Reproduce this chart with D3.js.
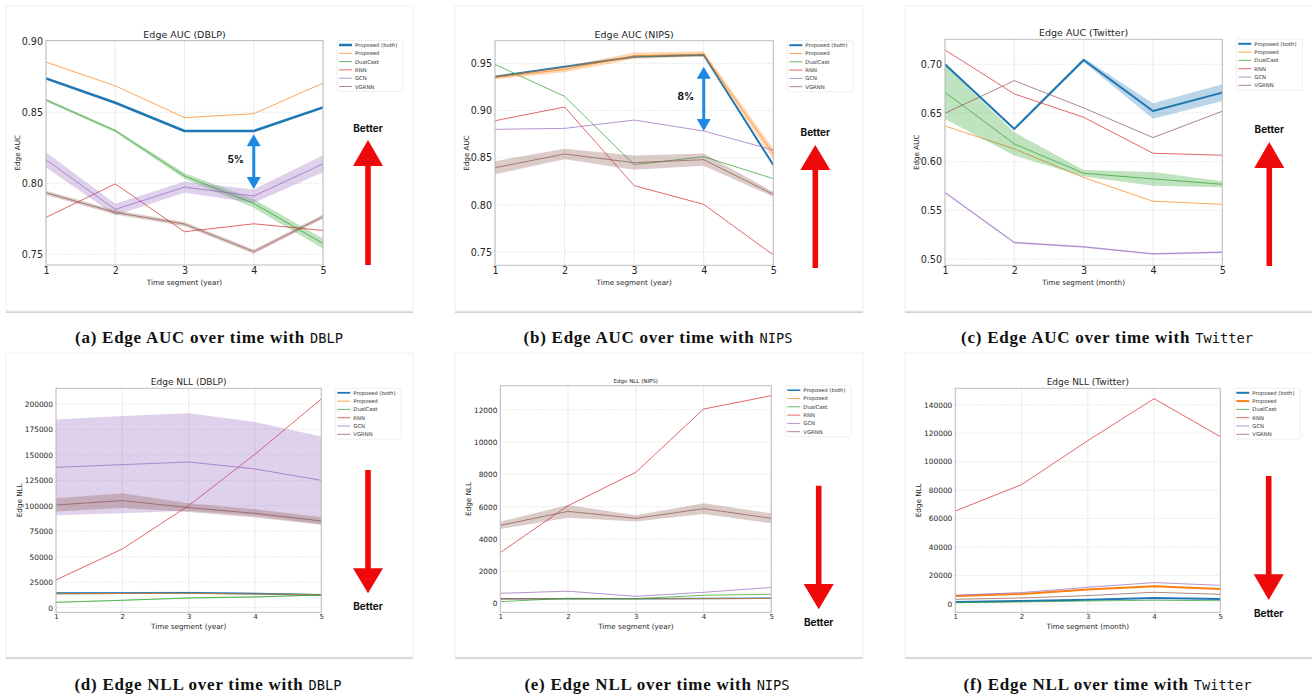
<!DOCTYPE html>
<html>
<head>
<meta charset="utf-8">
<script src="https://cdn.jsdelivr.net/npm/d3@7"></script>
<style>
  body { margin: 0; background: #fff; }
  svg { display: block; }
</style>
</head>
<body>
<script>
const W = 1312, H = 700;

const STEPS = [1, 2, 3, 4, 5];
const METHODS = ['Proposed (both)', 'Proposed', 'DualCast', 'RNN', 'GCN', 'VGRNN'];
const COLORS = ['#1f77b4', '#ff7f0e', '#2ca02c', '#d62728', '#9467bd', '#8c564b'];

// (a) Edge AUC - DBLP
const aucDblpBoth   = [0.8738, 0.8567, 0.8368, 0.8368, 0.8534];
const aucDblpProp   = [0.8853, 0.8686, 0.8462, 0.8490, 0.8705];
const aucDblpDual   = [0.8586, 0.8370, 0.8052, 0.7858, 0.7577];
const aucDblpRnn    = [0.7760, 0.7996, 0.7659, 0.7715, 0.7668];
const aucDblpGcn    = [0.8165, 0.7816, 0.7973, 0.7910, 0.8137];
const aucDblpVgrnn  = [0.7933, 0.7795, 0.7713, 0.7519, 0.7765];
const aucDblpDualErr  = [0.001, 0.001, 0.002, 0.003, 0.0035];
const aucDblpGcnErr   = [0.0053, 0.004, 0.004, 0.0047, 0.006];
const aucDblpVgrnnErr = [0.0015, 0.0015, 0.0015, 0.0015, 0.0015];

// (b) Edge AUC - NIPS
const aucNipsBoth   = [0.9359, 0.9465, 0.9571, 0.9588, 0.8424];
const aucNipsProp   = [0.9350, 0.9437, 0.9581, 0.9599, 0.8540];
const aucNipsDual   = [0.9489, 0.9151, 0.8428, 0.8512, 0.8280];
const aucNipsRnn    = [0.8893, 0.9038, 0.8206, 0.8008, 0.7472];
const aucNipsGcn    = [0.8802, 0.8812, 0.8900, 0.8784, 0.8583];
const aucNipsVgrnn  = [0.8396, 0.8541, 0.8449, 0.8481, 0.8114];
const aucNipsPropErr  = [0.002, 0.003, 0.0034, 0.0026, 0.006];
const aucNipsVgrnnErr = [0.0069, 0.0055, 0.0076, 0.0065, 0.0026];

// (c) Edge AUC - Twitter
const aucTwBoth   = [0.7000, 0.6337, 0.7044, 0.6521, 0.6709];
const aucTwProp   = [0.6367, 0.6132, 0.5838, 0.5595, 0.5564];
const aucTwDual   = [0.6713, 0.6183, 0.5882, 0.5824, 0.5769];
const aucTwRnn    = [0.7147, 0.6696, 0.6456, 0.6087, 0.6067];
const aucTwGcn    = [0.5684, 0.5171, 0.5127, 0.5055, 0.5072];
const aucTwVgrnn  = [0.6497, 0.6832, 0.6552, 0.6248, 0.6518];
const aucTwBothErr = [0.001, 0.001, 0.002, 0.008, 0.0085];
const aucTwDualErr = [0.0275, 0.012, 0.0034, 0.007, 0.003];
const aucTwGcnErr  = [0.001, 0.001, 0.001, 0.001, 0.001];

// (d) Edge NLL - DBLP
const nllDblpBoth   = [14100, 14300, 14500, 13700, 12600];
const nllDblpProp   = [13700, 13900, 14000, 13400, 12800];
const nllDblpDual   = [5200, 7200, 9500, 10500, 12400];
const nllDblpRnn    = [27200, 57600, 100200, 150600, 204900];
const nllDblpGcn    = [137800, 140400, 143000, 136200, 125000];
const nllDblpVgrnn  = [100800, 105100, 98200, 92600, 85100];
const nllDblpBothErr  = [1000, 1000, 1000, 800, 500];
const nllDblpDualErr  = [500, 500, 800, 800, 500];
const nllDblpGcnErr   = [47000, 47800, 47800, 46000, 43000];
const nllDblpVgrnnErr = [6500, 7200, 4400, 4000, 3700];

// (e) Edge NLL - NIPS
const nllNipsBoth   = [310, 310, 310, 320, 330];
const nllNipsProp   = [290, 300, 300, 310, 320];
const nllNipsDual   = [124, 330, 310, 520, 577];
const nllNipsRnn    = [3155, 6062, 8124, 12041, 12866];
const nllNipsGcn    = [639, 770, 450, 701, 1000];
const nllNipsVgrnn  = [4845, 5711, 5278, 5876, 5278];
const nllNipsVgrnnErr = [230, 390, 190, 330, 310];

// (f) Edge NLL - Twitter
const nllTwBoth   = [1400, 2100, 3000, 4200, 3500];
const nllTwProp   = [5600, 7000, 10100, 12400, 10500];
const nllTwDual   = [900, 1400, 2100, 2600, 2300];
const nllTwRnn    = [65300, 83800, 114700, 144200, 117500];
const nllTwGcn    = [6100, 8000, 11700, 15000, 13100];
const nllTwVgrnn  = [3300, 4200, 5900, 8200, 6800];

const AUC_DBLP_TICKS = [0.75, 0.80, 0.85, 0.90];
const AUC_NIPS_TICKS = [0.75, 0.80, 0.85, 0.90, 0.95];
const AUC_TW_TICKS   = [0.50, 0.55, 0.60, 0.65, 0.70];
const NLL_DBLP_TICKS = [0, 25000, 50000, 75000, 100000, 125000, 150000, 175000, 200000];
const NLL_NIPS_TICKS = [0, 2000, 4000, 6000, 8000, 10000, 12000];
const NLL_TW_TICKS   = [0, 20000, 40000, 60000, 80000, 100000, 120000, 140000];

const CAPTIONS = [
  ['(a) Edge AUC over time with ', 'DBLP'],
  ['(b) Edge AUC over time with ', 'NIPS'],
  ['(c) Edge AUC over time with ', 'Twitter'],
  ['(d) Edge NLL over time with ', 'DBLP'],
  ['(e) Edge NLL over time with ', 'NIPS'],
  ['(f) Edge NLL over time with ', 'Twitter']
];

const series = (vals, errs, widths) =>
  METHODS.map((name, i) => ({ name, color: COLORS[i], values: vals[i], err: errs[i], width: widths[i] }));

const PANELS = [
  { card: [6, 6, 407, 305], plot: [46, 40.5, 323, 265], yDomain: [0.7425, 0.9005], yTicks: AUC_DBLP_TICKS, fmt: '.2f',
    title: 'Edge AUC (DBLP)', titleSize: 9.5, yLabel: 'Edge AUC', xLabel: 'Time segment (year)', yLabelX: 17,
    yTickSize: 9.6, xTickSize: 9.6, labelSize: 7.2, caption: CAPTIONS[0], capX: 209, capY: 343,
    series: series([aucDblpBoth, aucDblpProp, aucDblpDual, aucDblpRnn, aucDblpGcn, aucDblpVgrnn],
                   [null, null, aucDblpDualErr, null, aucDblpGcnErr, aucDblpVgrnnErr], [2.5, 1, 1, 1, 1, 1]),
    better: { dir: 'up', cx: 368, textY: 128, tip: 140, base: 166, end: 265 },
    gap: { at: 4, from: 0.8345, to: 0.7959, label: '5%' } },
  { card: [455, 6, 408, 305], plot: [495, 40.7, 773.3, 265.3], yDomain: [0.7363, 0.974], yTicks: AUC_NIPS_TICKS, fmt: '.2f',
    title: 'Edge AUC (NIPS)', titleSize: 9.5, yLabel: 'Edge AUC', xLabel: 'Time segment (year)', yLabelX: 466,
    yTickSize: 9.6, xTickSize: 9.6, labelSize: 7.2, caption: CAPTIONS[1], capX: 658, capY: 343,
    series: series([aucNipsBoth, aucNipsProp, aucNipsDual, aucNipsRnn, aucNipsGcn, aucNipsVgrnn],
                   [null, aucNipsPropErr, null, null, null, aucNipsVgrnnErr], [2, 1, 1, 1, 1, 1]),
    better: { dir: 'up', cx: 815.3, textY: 132, tip: 145, base: 170, end: 268 },
    gap: { at: 4, from: 0.9465, to: 0.8784, label: '8%' } },
  { card: [905, 6, 420, 305], plot: [945, 39.3, 1222.3, 265.3], yDomain: [0.4938, 0.7256], yTicks: AUC_TW_TICKS, fmt: '.2f',
    title: 'Edge AUC (Twitter)', titleSize: 9.5, yLabel: 'Edge AUC', xLabel: 'Time segment (month)', yLabelX: 916,
    yTickSize: 9.6, xTickSize: 9.6, labelSize: 7.2, caption: CAPTIONS[2], capX: 1107, capY: 343,
    series: series([aucTwBoth, aucTwProp, aucTwDual, aucTwRnn, aucTwGcn, aucTwVgrnn],
                   [aucTwBothErr, null, aucTwDualErr, null, aucTwGcnErr, null], [2, 1, 1, 1, 1, 1]),
    better: { dir: 'up', cx: 1269.3, textY: 129, tip: 142, base: 168, end: 266 } },
  { card: [6, 353, 407, 304], plot: [56, 388.3, 321.3, 612.3], yDomain: [-4583, 215385], yTicks: NLL_DBLP_TICKS, fmt: 'd',
    title: 'Edge NLL (DBLP)', titleSize: 9, yLabel: 'Edge NLL', xLabel: 'Time segment (year)', yLabelX: 19.3,
    yTickSize: 7.4, xTickSize: 7, labelSize: 7.2, caption: CAPTIONS[3], capX: 208, capY: 690,
    series: series([nllDblpBoth, nllDblpProp, nllDblpDual, nllDblpRnn, nllDblpGcn, nllDblpVgrnn],
                   [nllDblpBothErr, null, nllDblpDualErr, null, nllDblpGcnErr, nllDblpVgrnnErr], [1.8, 1, 1, 1, 1, 1]),
    better: { dir: 'down', cx: 368, textY: 606, tip: 593.3, base: 568.3, end: 470 } },
  { card: [455, 353, 408, 304], plot: [500.3, 385.7, 771.3, 612.3], yDomain: [-536, 13485], yTicks: NLL_NIPS_TICKS, fmt: 'd',
    title: 'Edge NLL (NIPS)', titleSize: 5.5, yLabel: 'Edge NLL', xLabel: 'Time segment (year)', yLabelX: 468.3,
    yTickSize: 7.3, xTickSize: 7, labelSize: 7.2, caption: CAPTIONS[4], capX: 657, capY: 690,
    series: series([nllNipsBoth, nllNipsProp, nllNipsDual, nllNipsRnn, nllNipsGcn, nllNipsVgrnn],
                   [null, null, null, null, null, nllNipsVgrnnErr], [1.5, 1, 1, 1, 1, 1]),
    better: { dir: 'down', cx: 818.7, textY: 622, tip: 609.3, base: 584, end: 485.7 } },
  { card: [905, 353, 420, 304], plot: [955.3, 388.3, 1220.3, 612.3], yDomain: [-5853, 151470], yTicks: NLL_TW_TICKS, fmt: 'd',
    title: 'Edge NLL (Twitter)', titleSize: 9, yLabel: 'Edge NLL', xLabel: 'Time segment (month)', yLabelX: 918.3,
    yTickSize: 7.4, xTickSize: 7, labelSize: 7.2, caption: CAPTIONS[5], capX: 1107.5, capY: 690,
    series: series([nllTwBoth, nllTwProp, nllTwDual, nllTwRnn, nllTwGcn, nllTwVgrnn],
                   [null, null, null, null, null, null], [2, 2, 1, 1, 1, 1]),
    better: { dir: 'down', cx: 1268.7, textY: 612.5, tip: 600, base: 574.3, end: 476 } }
];

const svg = d3.select('body').append('svg')
  .attr('width', W).attr('height', H)
  .style('font-family', '"DejaVu Sans", sans-serif');

PANELS.forEach(drawPanel);

function drawPanel(p, idx) {
  const g = svg.append('g');
  const [cx0, cy0, cw, ch] = p.card;

  // card + shadow
  g.append('rect').attr('x', cx0).attr('y', cy0 + 2).attr('width', cw).attr('height', ch)
    .attr('fill', '#d2d2d2');
  g.append('rect').attr('x', cx0).attr('y', cy0).attr('width', cw).attr('height', ch)
    .attr('fill', '#fff').attr('stroke', '#efefef');

  const [l, t, r, b] = p.plot;
  const x = d3.scaleLinear().domain([1, 5]).range([l, r]);
  const y = d3.scaleLinear().domain(p.yDomain).range([b, t]);

  const clipId = 'clip' + idx;
  g.append('clipPath').attr('id', clipId)
    .append('rect').attr('x', l).attr('y', t).attr('width', r - l).attr('height', b - t);

  // grid
  g.append('g').selectAll('line').data(STEPS).join('line')
    .attr('x1', d => x(d)).attr('x2', d => x(d)).attr('y1', t).attr('y2', b)
    .attr('stroke', '#e6e6e6').attr('stroke-width', 0.8);
  g.append('g').selectAll('line').data(p.yTicks).join('line')
    .attr('x1', l).attr('x2', r).attr('y1', d => y(d)).attr('y2', d => y(d))
    .attr('stroke', '#e6e6e6').attr('stroke-width', 0.8).attr('stroke-dasharray', '2,1');

  // series
  const plot = g.append('g').attr('clip-path', `url(#${clipId})`);
  const line = d3.line().x((d, i) => x(STEPS[i])).y(d => y(d));
  p.series.forEach(s => {
    if (s.err) {
      const area = d3.area()
        .x((d, i) => x(STEPS[i]))
        .y0((d, i) => y(d - s.err[i]))
        .y1((d, i) => y(d + s.err[i]));
      plot.append('path').datum(s.values).attr('d', area)
        .attr('fill', s.color).attr('fill-opacity', 0.3);
    }
    plot.append('path').datum(s.values).attr('d', line)
      .attr('fill', 'none').attr('stroke', s.color)
      .attr('stroke-width', s.width)
      .attr('stroke-opacity', s.width > 1 ? 1 : 0.7)
      .attr('stroke-linejoin', 'round');
  });

  // spines
  g.append('rect').attr('x', l).attr('y', t).attr('width', r - l).attr('height', b - t)
    .attr('fill', 'none').attr('stroke', '#bdbdbd').attr('stroke-width', 1);

  // axes
  const xAxis = g.append('g').attr('transform', `translate(0,${b})`)
    .call(d3.axisBottom(x).tickValues(STEPS).tickFormat(d3.format('d')).tickSize(0).tickPadding(2));
  const yAxis = g.append('g').attr('transform', `translate(${l},0)`)
    .call(d3.axisLeft(y).tickValues(p.yTicks).tickFormat(d3.format(p.fmt)).tickSize(0).tickPadding(3));
  [xAxis, yAxis].forEach(a => a.select('.domain').remove());
  xAxis.selectAll('text').attr('font-size', p.xTickSize).attr('fill', '#262626')
    .attr('font-family', '"DejaVu Sans", sans-serif');
  yAxis.selectAll('text').attr('font-size', p.yTickSize).attr('fill', '#262626')
    .attr('font-family', '"DejaVu Sans", sans-serif');

  // title and labels
  g.append('text').attr('x', (l + r) / 2).attr('y', t - 3)
    .attr('text-anchor', 'middle').attr('font-size', p.titleSize).attr('fill', '#262626')
    .text(p.title);
  g.append('text').attr('x', (l + r) / 2).attr('y', b + p.xTickSize + 10)
    .attr('text-anchor', 'middle').attr('font-size', p.labelSize).attr('fill', '#262626')
    .text(p.xLabel);
  g.append('text')
    .attr('transform', `translate(${p.yLabelX},${(t + b) / 2}) rotate(-90)`)
    .attr('text-anchor', 'middle').attr('dominant-baseline', 'central')
    .attr('font-size', p.labelSize).attr('fill', '#262626')
    .text(p.yLabel);

  // legend
  const lg = g.append('g').attr('transform', `translate(${r + 14},${t})`);
  lg.append('rect').attr('width', 66).attr('height', 51).attr('rx', 2)
    .attr('fill', '#fff').attr('stroke', '#e4e4e4').attr('stroke-width', 0.6);
  p.series.forEach((s, i) => {
    const yy = 4.5 + i * 8.3;
    lg.append('line').attr('x1', 2).attr('x2', 15).attr('y1', yy).attr('y2', yy)
      .attr('stroke', s.color).attr('stroke-width', s.width)
      .attr('stroke-opacity', s.width > 1 ? 1 : 0.7);
    lg.append('text').attr('x', 18).attr('y', yy).attr('dominant-baseline', 'central')
      .attr('font-size', 5.3).attr('fill', '#333').text(s.name);
  });

  // "Better" arrow
  const bt = p.better;
  const red = '#ee0a0a';
  const hw = 15, sw = 2.8;
  const arrow = d3.path();
  arrow.moveTo(bt.cx, bt.tip);
  arrow.lineTo(bt.cx + hw, bt.base);
  arrow.lineTo(bt.cx + sw, bt.base);
  arrow.lineTo(bt.cx + sw, bt.end);
  arrow.lineTo(bt.cx - sw, bt.end);
  arrow.lineTo(bt.cx - sw, bt.base);
  arrow.lineTo(bt.cx - hw, bt.base);
  arrow.closePath();
  g.append('path').attr('d', arrow.toString()).attr('fill', red);
  g.append('text').attr('x', bt.cx).attr('y', bt.textY)
    .attr('text-anchor', 'middle').attr('dominant-baseline', 'central')
    .attr('font-family', 'Inter, "DejaVu Sans", sans-serif').attr('font-weight', 700)
    .attr('font-size', 10).attr('fill', '#111').text('Better');

  // gap annotation (double arrow)
  if (p.gap) {
    const gx = x(p.gap.at), y1 = y(p.gap.from), y2 = y(p.gap.to);
    const blue = '#1e88e5';
    const ah = 12, aw = 7;
    g.append('line').attr('x1', gx).attr('x2', gx).attr('y1', y1 + ah - 1).attr('y2', y2 - ah + 1)
      .attr('stroke', blue).attr('stroke-width', 3);
    const heads = d3.path();
    heads.moveTo(gx, y1); heads.lineTo(gx + aw, y1 + ah); heads.lineTo(gx - aw, y1 + ah); heads.closePath();
    heads.moveTo(gx, y2); heads.lineTo(gx + aw, y2 - ah); heads.lineTo(gx - aw, y2 - ah); heads.closePath();
    g.append('path').attr('d', heads.toString()).attr('fill', blue);
    g.append('text').attr('x', gx - 18).attr('y', (y1 + y2) / 2 - 3)
      .attr('text-anchor', 'middle').attr('dominant-baseline', 'central')
      .attr('font-family', 'Inter, "DejaVu Sans", sans-serif').attr('font-weight', 700)
      .attr('font-size', 10).attr('fill', '#111').text(p.gap.label);
  }

  // caption
  const cap = svg.append('text').attr('x', p.capX).attr('y', p.capY)
    .attr('text-anchor', 'middle').attr('fill', '#111');
  cap.append('tspan').attr('font-family', '"Liberation Serif", serif')
    .attr('font-weight', 700).attr('font-size', 17).attr('letter-spacing', 0.75).text(p.caption[0]);
  cap.append('tspan').attr('font-family', '"DejaVu Sans Mono", monospace')
    .attr('font-size', 13.7).text(p.caption[1]);
}
</script>
</body>
</html>
